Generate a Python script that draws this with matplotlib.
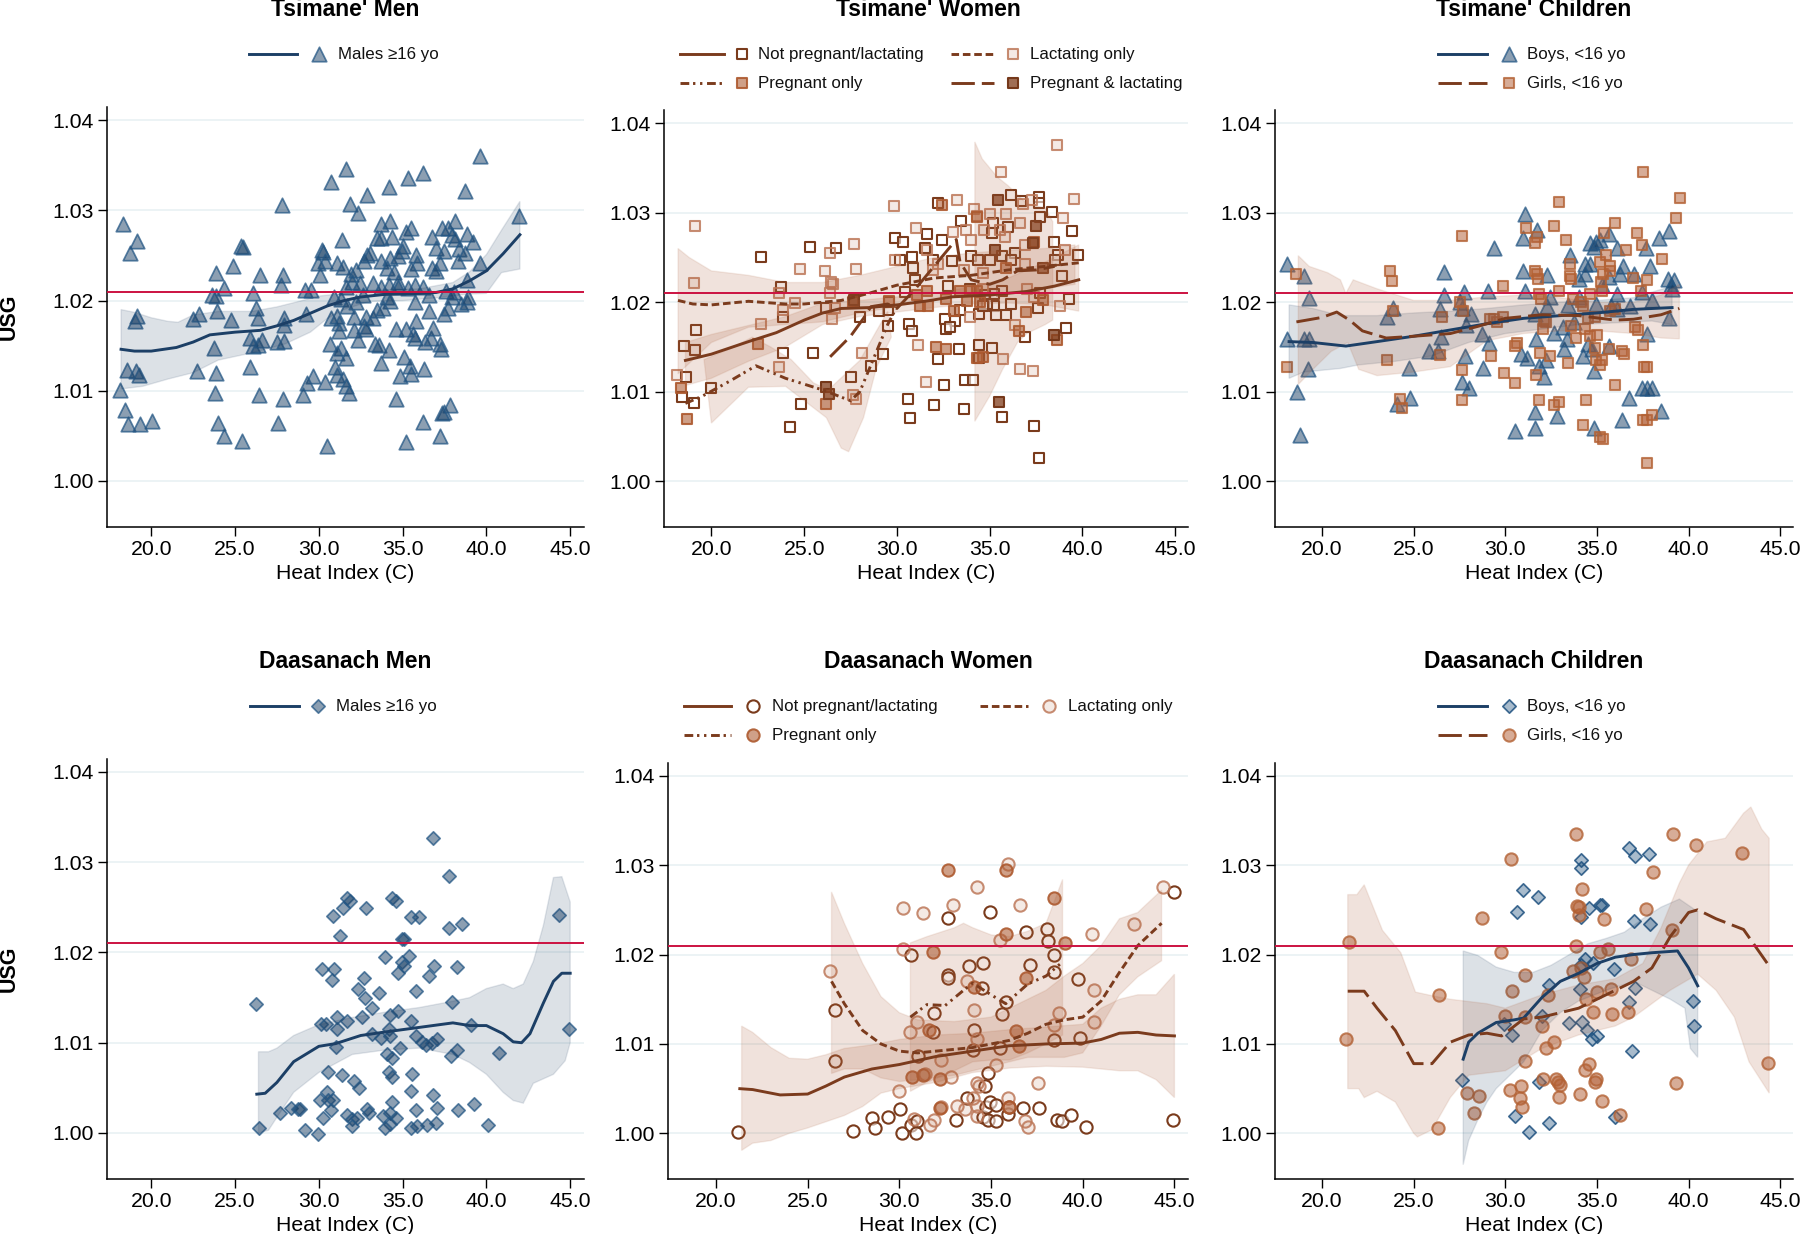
import numpy as np
import matplotlib
matplotlib.use('Agg')
import matplotlib.pyplot as plt

plt.rcParams['font.family'] = ['Liberation Sans', 'DejaVu Sans']

# Tsimane' men
tm_pts = [(18.33,1.0285),(19.15,1.0266),(18.75,1.0253),(19.15,1.0183),(19.06,1.0177),(18.54,1.0123),(19.09,1.0122),(19.27,1.0117),(18.13,1.0101),(18.42,1.0079),(18.63,1.0063),(19.34,1.0063),(20.07,1.0067),
 (22.47,1.018),(22.85,1.0185),(22.76,1.0122),(23.84,1.0231),(23.65,1.0206),(23.88,1.0205),(24.36,1.0214),(24.86,1.0238),(23.93,1.0188),(24.77,1.0179),(23.77,1.0147),(23.84,1.012),(23.79,1.0098),(24.0,1.0064),(24.36,1.005),(25.39,1.0044),
 (25.37,1.0261),(25.5,1.0259),(26.5,1.0228),(26.07,1.0208),(26.28,1.0192),(26.4,1.0181),(25.87,1.0158),(26.05,1.015),(26.39,1.0151),(26.64,1.0156),(25.91,1.0126),(26.44,1.0095),
 (27.79,1.0306),(27.88,1.0228),(27.76,1.0217),(27.92,1.0181),(27.92,1.0173),(27.53,1.0154),(27.92,1.0155),(27.85,1.0091),(27.56,1.0064),(29.25,1.0185),(29.18,1.0212),(29.52,1.0212),(29.66,1.0116),(29.32,1.0109),(29.06,1.0095),
 (30.39,1.011),(30.48,1.0039),(30.71,1.0331),(31.64,1.0346),(31.85,1.0307),(32.35,1.0297),(32.9,1.0317),(31.39,1.0267),(30.2,1.0256),(30.27,1.0254),(30.34,1.0244),(29.93,1.0242),(31.07,1.0242),(30.05,1.0228),(31.42,1.0237),(31.94,1.023),(32.2,1.0234),(32.0,1.0221),(32.44,1.0219),(31.64,1.0215),(30.89,1.0204),(31.3,1.0202),(32.67,1.0244),(32.9,1.0251),(33.08,1.0253),(31.7,1.0194),(32.2,1.0198),(32.63,1.0206),
 (30.73,1.0181),(31.07,1.0183),(31.19,1.0175),(31.23,1.0166),(32.1,1.0182),(32.79,1.0182),(33.24,1.0181),(33.47,1.019),(32.67,1.0172),(32.1,1.0167),(32.79,1.0168),(32.33,1.0156),(30.66,1.0152),(31.3,1.0147),(31.07,1.0142),(31.64,1.0136),(30.96,1.0126),(31.07,1.0118),(31.42,1.0113),(31.6,1.0105),(31.83,1.0098),
 (33.36,1.0152),(33.58,1.0151),(34.16,1.0145),(33.7,1.0131),(34.6,1.0091),(34.84,1.0116),(35.07,1.0138),(35.46,1.0128),(35.53,1.0119),(34.6,1.0168),(35.18,1.0168),(35.8,1.0177),(35.64,1.0163),(35.75,1.0158),(36.32,1.0154),(36.67,1.0158),(36.83,1.017),(37.24,1.0152),(37.28,1.0146),(37.47,1.0185),(37.69,1.0192),(36.6,1.0189),(36.28,1.0124),(36.21,1.0065),(35.23,1.0043),(37.24,1.005),(37.47,1.0076),(37.81,1.0084),(37.35,1.0075),
 (34.2,1.0326),(35.3,1.0336),(36.21,1.0341),(39.59,1.036),(38.74,1.0321),(41.92,1.0294),(33.7,1.0285),(34.27,1.0288),(35.48,1.028),(35.18,1.0276),(33.47,1.0269),(33.7,1.0269),(34.38,1.027),(35.0,1.0261),(34.95,1.0255),(35.8,1.0251),(35.87,1.0242),(35.53,1.0235),(33.7,1.0244),(34.22,1.0247),(34.73,1.0249),(34.04,1.0236),(34.5,1.0232),(34.73,1.0221),(33.24,1.0219),(33.7,1.0215),(34.16,1.0217),(34.73,1.0215),(35.3,1.0214),(36.21,1.0215),(35.75,1.0217),(34.04,1.0204),(34.27,1.02),(33.81,1.0192),(35.75,1.0198),(36.55,1.0206),
 (36.78,1.0271),(37.35,1.028),(37.69,1.028),(38.15,1.0288),(37.0,1.0258),(37.47,1.0255),(37.92,1.0273),(38.15,1.0268),(38.38,1.0257),(38.84,1.0274),(39.22,1.0265),(38.72,1.0253),(39.63,1.0242),(38.31,1.0244),(37.24,1.0242),(36.78,1.0236),(37.0,1.0233),(38.84,1.0223),(37.58,1.0211),(38.04,1.021),(37.92,1.0204),(38.49,1.0196),(38.84,1.0198),(38.88,1.0204)]
tm_line = [(18.2,1.0146),(19,1.0144),(20,1.0144),(21.5,1.0148),(22.5,1.0154),(23.5,1.0162),(25,1.0165),(26.5,1.0167),(27.5,1.0172),(28.5,1.0178),(29.5,1.0186),(30.5,1.0194),(31.5,1.02),(32.5,1.0204),(34,1.0207),(36,1.0208),(37,1.0209),(38,1.0213),(39,1.0222),(40,1.0233),(41,1.0252),(42,1.0273)]
tm_hi = [(18.2,1.019),(19,1.0187),(20,1.0181),(21,1.0177),(21.6,1.0176),(22.5,1.0184),(24,1.0188),(26,1.0188),(27.5,1.0193),(29,1.02),(30,1.0205),(31,1.0207),(32,1.0209),(34,1.0212),(36,1.0213),(38,1.022),(39,1.0232),(40,1.0251),(40.9,1.0278),(42,1.031)]
tm_lo = [(18.2,1.0102),(19.5,1.0105),(21,1.0113),(22.5,1.012),(24,1.0134),(26,1.0142),(28,1.0152),(29.5,1.0165),(30.5,1.018),(31.5,1.019),(33,1.0199),(35,1.02),(37,1.0203),(38.8,1.0207),(40,1.0208),(40.9,1.0231),(42,1.0235)]

# Tsimane' women
tw_np_pts = [(22.68,1.0251),(25.32,1.0262),(26.7,1.026),(23.75,1.0217),(23.86,1.0183),(23.86,1.0143),(19.15,1.0169),(18.54,1.0151),(19.11,1.0147),(18.64,1.0116),(18.43,1.0094),(19.05,1.0088),(20,1.0104),(24.81,1.0086),(24.25,1.0061),(25.5,1.0143),(26.17,1.0193),(27.67,1.02),(28.02,1.0183),(27.55,1.0116),(28.6,1.0129),(29.26,1.0142),(29.5,1.0173),(29.5,1.0191),(29.05,1.019),(29.57,1.02),
 (29.88,1.0272),(30.33,1.0267),(30.19,1.0247),(30.81,1.025),(30.87,1.0238),(30.95,1.0225),(30.46,1.0211),(30.66,1.0176),(30.81,1.0168),(30.6,1.0092),(30.7,1.0071),(31.63,1.0276),(31.49,1.0261),(32.19,1.0311),(32.42,1.0269),(32.97,1.0246),(31.94,1.0247),(33.45,1.0291),(34.0,1.0252),(34.38,1.0247),(32.73,1.0218),(33.39,1.0191),(33.14,1.0179),(32.6,1.0181),(32.66,1.017),(32.87,1.0172),(32.21,1.0137),(33.35,1.0148),(34.42,1.0152),(35.14,1.0149),(34.42,1.0138),(32.56,1.0107),(31.98,1.0085),(33.59,1.0081),(33.65,1.0113),(34.11,1.0113),(35.66,1.0072),(37.41,1.0062),(37.66,1.0026),
 (36.13,1.032),(36.69,1.0313),(37.66,1.0317),(37.66,1.0311),(37.72,1.0295),(38.38,1.0301),(39.41,1.0279),(38.48,1.0267),(38.69,1.0253),(38.54,1.0247),(39.74,1.0253),(38.9,1.0229),(39.27,1.0204),(39.12,1.0171),(37.62,1.0193),(37.72,1.021),(36.93,1.0161),(35.9,1.0186),(36.13,1.0198),(35.24,1.0196),(35.35,1.0186),(35.66,1.0213),(35.18,1.0288),(35.14,1.0277),(36.0,1.0284),(35.04,1.0247),(35.66,1.0252),(36.38,1.0255),(36.17,1.0247),(35.24,1.0209),(34.73,1.0208),(34.83,1.0198),(34.42,1.0187),(34.63,1.0196),(33.96,1.0215)]
tw_la_pts = [(19.11,1.0285),(19.05,1.0221),(18.12,1.0119),(23.63,1.021),(22.7,1.0176),(23.86,1.0191),(24.48,1.0199),(23.63,1.0128),(24.76,1.0237),(26.1,1.0235),(26.39,1.0255),(26.44,1.0223),(26.54,1.022),(26.37,1.021),(26.48,1.0181),(26.68,1.0193),(27.71,1.0265),(27.78,1.0237),(28.13,1.0143),(27.65,1.0096),(27.82,1.0092),(29.82,1.0307),(29.88,1.0247),(31.01,1.0283),(31.16,1.0152),(31.55,1.0111),(31.63,1.0258),(32.19,1.0243),(33.24,1.0314),(33.02,1.0278),(33.7,1.0281),(34.0,1.027),(34.17,1.0304),(34.32,1.0296),(35.04,1.0299),(34.69,1.0281),(35.61,1.0345),(35.86,1.0298),(35.55,1.0281),(35.8,1.0273),(36.65,1.0288),(36.79,1.031),(37.3,1.0314),(38.64,1.0376),(39.57,1.0315),(38.96,1.0294),(39.06,1.0258),(36.93,1.0264),(38.81,1.0196),(35.72,1.0137),(36.63,1.0125),(37.35,1.0123),(36.38,1.0174),(33.96,1.0183),(33.6,1.0236),(34.63,1.0233),(36.9,1.0243),(37.0,1.0215),(37.41,1.0206),(34.63,1.0215),(31.94,1.0236)]
tw_pr_pts = [(18.35,1.0104),(18.66,1.007),(22.5,1.0153),(26.17,1.0086),(27.65,1.02),(29.57,1.0201),(31.1,1.0208),(31.63,1.0213),(31.22,1.0196),(31.67,1.0196),(32.42,1.0309),(32.62,1.0148),(32.1,1.015),(32.62,1.0204),(33.08,1.019),(33.39,1.0213),(34.0,1.0213),(33.8,1.0201),(34.32,1.0213),(34.32,1.0295),(34.46,1.02),(36.96,1.0189),(36.58,1.0168),(37.88,1.0202),(38.64,1.0158),(37.41,1.0267),(35.86,1.0238),(34.32,1.0138),(34.63,1.0139)]
tw_pl_pts = [(26.2,1.0105),(26.33,1.0097),(27.67,1.0202),(35.45,1.0314),(35.31,1.0258),(37.47,1.0285),(37.33,1.0266),(37.88,1.0238),(38.44,1.0163),(35.49,1.0089)]
tw_np_line = [(18.6,1.0135),(20,1.0142),(22,1.0156),(23.5,1.0166),(25,1.018),(26,1.0188),(27,1.0193),(28.5,1.0194),(30,1.0197),(31.5,1.0201),(33,1.0206),(35,1.0208),(37,1.0212),(38.5,1.0218),(39.8,1.0225)]
tw_np_hi = [(18.6,1.0155),(20,1.0164),(22,1.0174),(24,1.0184),(26,1.0199),(28,1.0202),(30,1.0206),(32,1.021),(34,1.0217),(36,1.0227),(38,1.0245),(39.8,1.0264)]
tw_np_lo = [(18.6,1.0107),(20,1.0115),(22,1.0134),(24,1.015),(26,1.0175),(28,1.0184),(30,1.0189),(32,1.0194),(34,1.0198),(36,1.0199),(38,1.0197),(39.8,1.019)]
tw_la_line = [(18.2,1.0202),(19,1.0198),(20,1.0197),(22,1.0201),(24,1.0198),(25,1.0198),(27,1.0202),(28.5,1.021),(30,1.0219),(32,1.0227),(34,1.023),(36,1.0236),(38,1.024),(39.8,1.0244)]
tw_la_hi = [(18.2,1.026),(18.8,1.025),(20,1.0235),(22,1.023),(24,1.0222),(26,1.0222),(28,1.023),(30,1.024),(32,1.025),(34,1.0255),(36,1.0258),(38,1.026),(39.6,1.0264)]
tw_la_lo = [(18.2,1.012),(20,1.0155),(22,1.0172),(24,1.0175),(26,1.0178),(28,1.0188),(30,1.0195),(32,1.0205),(34,1.0208),(36,1.021),(38,1.0215),(39.6,1.022)]
tw_pr_line = [(18.6,1.0087),(19.5,1.0095),(21,1.0112),(22.4,1.0129),(24,1.0115),(26,1.0102),(27.5,1.009),(28,1.01),(28.5,1.0125),(29,1.015),(29.5,1.0175),(30,1.0195)]
tw_pr_hi = [(19.6,1.0136),(21,1.0148),(22.2,1.0161),(23.2,1.015),(24.3,1.0136),(25.5,1.011),(26.3,1.0102),(28,1.0135),(29.5,1.019)]
tw_pr_lo = [(20,1.0065),(22,1.0105),(24,1.0106),(26.2,1.0071),(27,1.0037),(27.4,1.0033),(28.2,1.0071),(28.9,1.0127),(29.7,1.0161)]
tw_pl_line = [(26.4,1.0139),(27.5,1.0162),(28.2,1.0182),(28.6,1.0195),(29.5,1.0198),(30,1.0193),(31,1.0215),(32,1.024),(33,1.0265),(33.2,1.027),(33.4,1.0245),(34,1.0225),(35,1.022),(35.7,1.0225),(36.5,1.0235),(37.5,1.0236),(38.5,1.024)]
tw_pl_hi = [(34.2,1.0379),(34.6,1.036),(35.4,1.034),(36,1.033),(37,1.031),(38,1.0305),(38.4,1.029)]
tw_pl_lo = [(34.2,1.0067),(35,1.0095),(35.7,1.0125),(36.5,1.0155),(37,1.0165),(38,1.0175),(38.4,1.018)]

# Tsimane' children
tc_b_pts = [(18.1,1.0243),(19.02,1.0229),(19.29,1.0205),(18.1,1.0159),(19.04,1.0159),(19.29,1.0159),(19.23,1.0125),(18.62,1.01),(18.79,1.0052),(23.57,1.0184),(23.88,1.0193),(24.11,1.0086),(24.82,1.0093),(24.76,1.0127),(25.83,1.0146),(26.33,1.0146),(26.5,1.0161),(26.43,1.0192),(26.66,1.0208),(26.66,1.0234),(27.54,1.02),(27.75,1.0211),(27.64,1.0193),(27.85,1.0175),(28.12,1.0187),(27.81,1.014),(27.64,1.0111),(28.0,1.0104),(28.79,1.0127),(28.75,1.0165),(29.04,1.0213),(29.1,1.0154),(29.38,1.026),
 (31.05,1.0299),(30.99,1.0272),(31.72,1.0281),(30.99,1.0235),(31.05,1.0213),(31.61,1.0187),(31.65,1.0159),(30.88,1.0142),(31.2,1.0138),(31.86,1.0129),(32.24,1.0136),(32.13,1.0116),(31.61,1.0077),(31.61,1.0059),(30.51,1.0056),(32.8,1.0073),(32.28,1.023),(32.45,1.0206),(32.3,1.0196),(32.66,1.0166),(33.14,1.0172),(33.18,1.0148),(33.35,1.0159),(33.43,1.0197),(33.55,1.0253),
 (34.01,1.0226),(34.33,1.0243),(34.64,1.0243),(34.33,1.0232),(34.01,1.0206),(33.76,1.0178),(34.22,1.014),(34.53,1.0153),(34.75,1.0148),(34.85,1.0123),(34.64,1.0266),(34.85,1.0262),(34.95,1.0267),(35.16,1.027),(35.64,1.0276),(36.1,1.026),(36.42,1.024),(36.27,1.0231),(35.68,1.0228),(36.1,1.0209),(35.27,1.0219),(34.95,1.0198),(35.79,1.0196),(36.1,1.0192),(36.83,1.0196),(37.04,1.0231),(37.46,1.0211),(37.88,1.024),(37.67,1.026),(38.36,1.0272),(38.92,1.0279),(37.98,1.0203),(38.86,1.0226),(39.19,1.0225),(39.03,1.0219),(39.07,1.0215),(38.92,1.0182),(37.73,1.0164),(35.68,1.0151),(36.73,1.0093),(37.46,1.0104),(37.73,1.0104),(37.98,1.0104),(38.5,1.0079),(36.37,1.0068),(34.85,1.0059)]
tc_g_pts = [(18.56,1.0231),(18.1,1.0128),(23.72,1.0235),(23.82,1.0224),(23.88,1.019),(23.57,1.0136),(24.24,1.0092),(24.37,1.0082),(26.54,1.0183),(26.41,1.0141),(27.66,1.0274),(27.54,1.02),(27.71,1.019),(27.64,1.0124),(27.62,1.0091),(29.17,1.0181),(29.21,1.014),(29.52,1.0178),(29.38,1.0181),(29.88,1.0183),(29.88,1.0218),(29.94,1.0121),(30.51,1.011),(30.63,1.0155),(30.51,1.0151),
 (31.13,1.0283),(31.72,1.0273),(31.63,1.0266),(31.63,1.0235),(31.72,1.0232),(31.78,1.0226),(31.82,1.0209),(31.97,1.0204),(31.88,1.0143),(31.68,1.0119),(31.82,1.0091),(32.13,1.0179),(32.24,1.0178),(32.07,1.017),(32.45,1.014),(32.66,1.0285),(32.91,1.0312),(32.93,1.0213),(32.66,1.0085),(32.93,1.0089),(33.33,1.027),(33.55,1.0243),(33.55,1.0229),(33.6,1.0226),(33.43,1.0132),(33.7,1.0204),(33.6,1.0173),(33.85,1.016),
 (34.12,1.02),(34.22,1.0196),(34.33,1.017),(34.53,1.0182),(34.64,1.0209),(34.64,1.0162),(34.43,1.0091),(34.22,1.0063),(34.91,1.0183),(35.0,1.0163),(34.91,1.0149),(34.95,1.0136),(35.16,1.013),(35.27,1.0136),(35.16,1.0245),(35.31,1.0232),(35.22,1.0223),(35.37,1.0277),(35.27,1.0213),(35.52,1.0253),(35.73,1.024),(35.73,1.0235),(35.73,1.019),(35.68,1.0148),(36.0,1.0288),(36.0,1.0192),(36.35,1.0146),(36.46,1.0142),(36.0,1.0107),(36.58,1.0258),(36.98,1.0227),(37.1,1.0172),(37.25,1.0169),(37.21,1.0277),(37.46,1.0264),(37.52,1.0345),(37.42,1.0212),(37.71,1.0225),(37.52,1.0152),(37.57,1.0128),(37.71,1.0128),(37.52,1.0069),(37.73,1.0069),(37.98,1.0074),(37.71,1.0021),(38.57,1.0248),(39.34,1.0294),(39.55,1.0316),(35.16,1.005),(35.31,1.0047)]
tc_b_line = [(18.2,1.0156),(19.5,1.0155),(21.3,1.0151),(23,1.0156),(25,1.0162),(27,1.0169),(29,1.0176),(31,1.0182),(33,1.0185),(35,1.0188),(37,1.0192),(39.1,1.0194)]
tc_b_hi = [(18.2,1.0197),(19.5,1.0193),(21,1.0185),(23,1.0185),(25,1.0188),(27,1.019),(29,1.0193),(31,1.0197),(33,1.02),(35,1.0202),(37,1.0205),(39.1,1.0218)]
tc_b_lo = [(18.2,1.0115),(19,1.0122),(21,1.0126),(22,1.013),(24,1.0134),(26,1.014),(28,1.0155),(30,1.0165),(32,1.017),(34,1.0175),(36,1.0177),(38,1.0179),(39.1,1.0175)]
tc_g_line = [(18.6,1.0178),(20,1.0183),(20.8,1.0189),(21.5,1.018),(22.2,1.0168),(23.5,1.016),(25,1.0162),(27,1.0165),(28.5,1.0173),(30,1.0182),(32,1.0186),(34,1.0185),(36,1.018),(37,1.0181),(38.5,1.0186),(39.5,1.0193)]
tc_g_hi = [(18.7,1.0252),(19.3,1.024),(20.3,1.0233),(21,1.0225),(21.3,1.021),(21.7,1.0225),(23,1.0215),(25,1.0202),(27,1.0202),(29,1.0206),(31,1.0208),(33,1.0205),(35,1.02),(37,1.02),(38.5,1.0208),(39.5,1.022)]
tc_g_lo = [(18.7,1.0108),(19.5,1.0125),(20.5,1.0145),(21.4,1.0155),(22,1.0125),(23,1.0118),(25,1.0122),(27,1.0128),(29,1.0157),(31,1.0165),(33,1.0168),(35,1.0168),(37,1.0165),(38.5,1.016),(39.5,1.0159)]

# Daasanach men
dm_pts = [(26.28,1.0143),(26.44,1.0005),(27.69,1.0022),(28.33,1.0028),(28.74,1.0027),(28.9,1.0027),(29.2,1.0003),(29.95,0.9999),(30.07,1.0036),(30.27,1.0017),(30.5,1.0045),(30.57,1.0036),(30.84,1.0036),(30.73,1.0025),(30.55,1.0068),(31.03,1.0095),(30.21,1.0182),(30.91,1.0182),(30.8,1.0169),(30.84,1.024),(31.26,1.0218),(31.46,1.0249),(31.71,1.026),(31.87,1.0257),(32.79,1.0249),(30.16,1.0121),(30.43,1.0121),(31.07,1.0129),(31.07,1.0115),(31.69,1.0124),(31.37,1.0064),(32.1,1.0058),(32.4,1.005),(31.71,1.002),(31.99,1.0016),(31.99,1.0008),(32.26,1.0017),(32.85,1.0027),(32.97,1.0022),(32.35,1.016),(32.69,1.0172),(32.74,1.015),(32.56,1.0129),(33.2,1.0139),(33.58,1.0155),(33.2,1.011),(33.7,1.0105),
 (33.93,1.0195),(34.38,1.026),(34.61,1.0257),(34.22,1.0131),(34.73,1.0135),(34.16,1.0115),(34.27,1.0108),(34.09,1.0087),(34.38,1.0083),(34.2,1.0068),(34.38,1.0062),(34.84,1.0094),(34.38,1.0034),(33.81,1.0019),(34.27,1.0022),(34.61,1.0017),(34.27,1.001),(33.93,1.0005),(34.95,1.0215),(35.11,1.0215),(35.41,1.0196),(34.95,1.0189),(35.07,1.0185),(34.73,1.0177),(35.82,1.0157),(35.53,1.0239),(35.98,1.0239),(35.53,1.0124),(35.8,1.0108),(36.16,1.0101),(36.37,1.0098),(36.74,1.01),(37.08,1.0104),(35.59,1.0065),(35.53,1.0046),(35.8,1.0025),(35.53,1.0006),(35.87,1.0008),(36.48,1.0009),(37.01,1.0011),(37.05,1.0028),(36.83,1.0042),(36.8,1.0327),(37.76,1.0285),(37.76,1.0227),(38.54,1.0232),(36.6,1.0174),(36.85,1.0185),(38.22,1.0184),(37.92,1.0145),(37.88,1.0085),(38.22,1.0092),(38.31,1.0025),(39.06,1.012),(39.29,1.0032),(40.09,1.0009),(40.73,1.0089),(44.36,1.0241),(44.95,1.0115)]
dm_line = [(26.3,1.0043),(26.8,1.0044),(27.5,1.0056),(28.5,1.0079),(30,1.0096),(31,1.0099),(32.5,1.0108),(34,1.0112),(36,1.0117),(38,1.0122),(39,1.0119),(40,1.0119),(41,1.011),(41.6,1.0101),(42.1,1.01),(42.6,1.011),(43.4,1.0144),(44,1.0168),(44.5,1.0177),(45,1.0177)]
dm_hi = [(26.4,1.009),(27,1.009),(27.5,1.0094),(28.5,1.0108),(30,1.012),(32,1.0128),(34,1.0134),(36,1.0139),(38,1.0146),(39,1.015),(40,1.016),(41,1.0165),(41.6,1.016),(42.2,1.0165),(42.8,1.019),(43.4,1.023),(44,1.0283),(44.5,1.0284),(45,1.0256)]
dm_lo = [(26.4,1.0),(27,1.0003),(27.7,1.0023),(28.5,1.0045),(30,1.0067),(32,1.0087),(34,1.0092),(36,1.0094),(38,1.0087),(39,1.0078),(40,1.0065),(41,1.0045),(41.6,1.0036),(42.2,1.0033),(42.8,1.0055),(43.4,1.006),(44,1.0065),(44.7,1.008),(45,1.01)]

# Daasanach women
dw_np_pts = [(21.21,1.0002),(26.47,1.0138),(26.47,1.0081),(27.49,1.0003),(28.49,1.0017),(28.66,1.0006),(29.39,1.0018),(30.06,1.0027),(30.12,1.0),(30.64,1.0199),(30.62,1.0009),(30.96,1.0014),(30.89,1.0),(31,1.0087),(31.87,1.0135),(31.83,1.0113),(32.63,1.0177),(32.67,1.0241),(32.67,1.0174),(33.1,1.0015),(33.71,1.004),(33.81,1.0187),(34.02,1.0093),(34.09,1.0116),(34.55,1.0191),(34.5,1.0163),(34.96,1.0248),(34.86,1.0067),(34.65,1.0053),(34.55,1.0018),(34.75,1.003),(34.82,1.0015),(34.96,1.0035),(35.28,1.0032),(35.28,1.0014),(35.48,1.0096),(35.59,1.0134),(35.8,1.0147),(35.9,1.0022),(36.0,1.0029),(36.74,1.0028),(36.88,1.0225),(37.11,1.0188),(37.59,1.0028),(38.05,1.0228),(38.09,1.0215),(38.45,1.0199),(38.41,1.018),(38.45,1.0104),(38.57,1.0015),(38.86,1.0014),(39.34,1.0021),(39.76,1.0173),(39.87,1.0107),(40.18,1.0007),(44.98,1.027),(44.94,1.0015)]
dw_la_pts = [(26.2,1.0182),(30.2,1.0252),(31.31,1.0246),(32.92,1.0255),(30.2,1.0206),(30.58,1.0113),(30.96,1.0125),(30.0,1.0047),(31.41,1.0066),(30.79,1.0016),(31.67,1.0009),(31.9,1.0015),(32.25,1.0082),(32.81,1.0063),(32.25,1.0029),(33.13,1.0031),(33.6,1.0027),(33.71,1.017),(34.07,1.0138),(34.23,1.0275),(34.23,1.0106),(34.02,1.004),(34.23,1.0056),(34.34,1.0053),(34.23,1.0019),(34.23,1.0031),(35.48,1.0216),(35.28,1.0076),(35.9,1.0301),(36.57,1.0255),(35.9,1.004),(36.84,1.0014),(37.0,1.0007),(37.57,1.0056),(38.72,1.0135),(40.53,1.0223),(40.6,1.016),(40.6,1.0124),(42.79,1.0234),(44.4,1.0275),(38.41,1.0121)]
dw_pr_pts = [(32.63,1.0295),(35.8,1.0295),(38.41,1.0263),(35.8,1.0223),(39.03,1.0213),(31.83,1.0203),(36.88,1.0174),(34.09,1.0164),(31.62,1.0116),(36.36,1.0115),(36.53,1.0098),(30.68,1.0063),(31.31,1.0065),(32.19,1.0061),(32.21,1.0028),(35.96,1.003)]
dw_np_line = [(21.3,1.005),(22,1.0049),(23.5,1.0043),(25,1.0044),(26,1.0053),(27,1.0063),(28.5,1.0072),(30,1.0077),(32,1.0086),(34,1.0092),(36,1.0098),(38,1.01),(40,1.0101),(41,1.0105),(42,1.0112),(43,1.0113),(44,1.011),(45,1.0109)]
dw_np_hi = [(21.4,1.012),(22,1.0113),(23,1.0096),(24,1.0084),(25,1.0083),(26,1.0088),(27,1.0095),(28.5,1.0099),(30,1.0105),(32,1.011),(34,1.0112),(36,1.0116),(38,1.0119),(40,1.0122),(41,1.014),(42,1.015),(43,1.0155),(44,1.0155),(45,1.0178)]
dw_np_lo = [(21.4,0.9981),(22,0.9989),(23,0.9992),(24,1.0),(25,1.0006),(26,1.0013),(27,1.002),(28,1.003),(29,1.0045),(30,1.005),(32,1.0057),(34,1.0068),(36,1.0073),(38,1.0075),(40,1.0074),(42,1.007),(43,1.007),(44,1.006),(45,1.004)]
dw_la_line = [(26.3,1.017),(27,1.0145),(28,1.0115),(29,1.01),(30,1.0092),(31,1.009),(33,1.0094),(34,1.0096),(36,1.0104),(37,1.0112),(38,1.0122),(39,1.0127),(40,1.013),(41,1.0148),(42,1.018),(43,1.021),(44.3,1.0235)]
dw_la_hi = [(26.3,1.027),(27,1.0235),(28,1.019),(29,1.0153),(30,1.0135),(31,1.0127),(33,1.0125),(35,1.013),(37,1.015),(38,1.016),(39,1.0176),(40,1.019),(41,1.021),(42,1.024),(43,1.0247),(44.3,1.0272)]
dw_la_lo = [(26.3,1.0067),(27,1.0072),(28,1.0072),(29,1.0062),(30,1.0058),(31,1.006),(33,1.0065),(35,1.0075),(37,1.0085),(39,1.0085),(40,1.009),(41,1.012),(42,1.0155),(43,1.0175),(44.3,1.0193)]
dw_pr_line = [(30.6,1.013),(31.5,1.0144),(32.5,1.0143),(33.5,1.016),(34,1.0168),(35,1.0155),(35.8,1.0145),(37,1.0167),(38,1.0176),(38.8,1.019)]
dw_pr_hi = [(30.6,1.0213),(31.5,1.022),(33,1.023),(33.5,1.0235),(34,1.023),(35,1.0222),(36,1.022),(37,1.0226),(38,1.0235),(38.9,1.0284)]
dw_pr_lo = [(30.6,1.0047),(31.5,1.0057),(33,1.007),(34,1.008),(35,1.0082),(36,1.0082),(37,1.009),(38,1.01),(38.9,1.011)]

# Daasanach children
dc_b_pts = [(27.64,1.006),(29.94,1.0122),(30.36,1.011),(30.63,1.0248),(30.99,1.0272),(31.78,1.0264),(30.53,1.0019),(31.3,1.0001),(31.82,1.0058),(31.99,1.0131),(32.39,1.0166),(32.39,1.0012),(33.45,1.0123),(34.08,1.0161),(34.12,1.0306),(34.12,1.0297),(34.12,1.0242),(34.54,1.0252),(35.16,1.0255),(35.27,1.0255),(34.18,1.0125),(34.47,1.0116),(34.75,1.0105),(35.02,1.0109),(34.37,1.0195),(34.12,1.0188),(34.79,1.019),(35.94,1.0184),(36.0,1.0018),(36.77,1.0319),(37.1,1.031),(37.82,1.0312),(37.0,1.0237),(37.88,1.0234),(37.08,1.0163),(36.77,1.0147),(36.9,1.0092),(40.24,1.0148),(40.32,1.012)]
dc_g_pts = [(21.48,1.0214),(21.32,1.0106),(26.39,1.0155),(26.35,1.0006),(27.89,1.0045),(28.54,1.0042),(28.27,1.0023),(28.71,1.0241),(29.75,1.0203),(30.32,1.0307),(30.34,1.0159),(30.0,1.0131),(30.25,1.0048),(30.84,1.0053),(30.78,1.004),(30.92,1.003),(31.05,1.0081),(31.05,1.013),(31.05,1.0177),(31.99,1.012),(32.2,1.0096),(32.03,1.0061),(32.34,1.0155),(32.66,1.0102),(32.76,1.0061),(32.87,1.0058),(32.97,1.0054),(32.91,1.0041),(33.85,1.0335),(33.87,1.021),(33.7,1.0182),(34.16,1.0273),(33.91,1.0254),(34.01,1.0253),(34.01,1.0244),(34.12,1.0185),(34.27,1.0175),(34.06,1.0044),(34.43,1.015),(34.79,1.0136),(34.58,1.0078),(34.37,1.0071),(34.95,1.0061),(34.89,1.0057),(35.0,1.0158),(35.16,1.0203),(35.58,1.0206),(35.41,1.024),(35.27,1.0036),(35.79,1.0161),(35.83,1.0133),(36.25,1.0021),(36.67,1.0136),(36.87,1.0195),(37.67,1.0251),(38.05,1.0292),(39.07,1.0227),(39.17,1.0335),(39.34,1.0056),(40.38,1.0322),(42.93,1.0313),(44.31,1.0079)]
dc_b_line = [(27.7,1.0083),(28,1.0102),(28.5,1.0112),(29.5,1.0124),(30.5,1.0127),(31,1.0129),(32,1.0152),(33,1.017),(34,1.0179),(35,1.019),(36,1.0197),(37,1.02),(38,1.0202),(39.4,1.0204),(40,1.0185),(40.5,1.0165)]
dc_b_hi = [(27.7,1.0204),(28.5,1.0199),(29.5,1.0186),(30.5,1.018),(31.5,1.018),(32.5,1.0188),(33.5,1.02),(34.5,1.0212),(35.5,1.0218),(36.5,1.0225),(37.5,1.024),(38.5,1.0253),(39.5,1.0262),(40.5,1.0248)]
dc_b_lo = [(27.7,0.9965),(28,0.9992),(28.5,1.0015),(29,1.0035),(29.5,1.005),(30,1.006),(31,1.008),(32,1.0115),(33,1.0135),(34,1.0148),(35.5,1.016),(37,1.017),(38,1.016),(39,1.015),(39.8,1.014),(40.1,1.0095),(40.5,1.0085)]
dc_g_line = [(21.4,1.0159),(22.3,1.0159),(23,1.014),(24,1.0115),(25,1.0078),(26,1.0078),(27,1.0102),(28,1.011),(29,1.0112),(29.8,1.0109),(31,1.0128),(32,1.013),(34,1.014),(36,1.016),(37,1.017),(38,1.0185),(39,1.022),(40,1.0247),(40.5,1.025),(41.5,1.024),(43,1.0228),(44.3,1.019)]
dc_g_hi = [(21.4,1.0267),(21.9,1.0267),(22.3,1.0278),(23.3,1.0227),(24.3,1.0202),(25.1,1.0158),(26,1.0154),(27,1.015),(29,1.0145),(30,1.014),(32,1.0155),(34,1.0166),(36,1.0173),(37.5,1.019),(38.5,1.023),(39.5,1.028),(40,1.03),(41,1.0326),(42,1.033),(43,1.0358),(43.4,1.0365),(44,1.034),(44.4,1.033)]
dc_g_lo = [(21.4,1.005),(22,1.005),(22.3,1.004),(23,1.0047),(24,1.0035),(25,1.0),(25.2,0.9996),(26,1.0004),(27,1.004),(28,1.0065),(30,1.007),(32,1.0095),(34,1.011),(36,1.012),(37,1.013),(39,1.016),(40.5,1.0178),(41.5,1.016),(42.5,1.013),(43.3,1.008),(44.4,1.0045)]

yticks = [1.00, 1.01, 1.02, 1.03, 1.04]
xticks = [20, 25, 30, 35, 40, 45]

blue = '#1c3f66'
brown = '#7b3b1d'
blue_band = (0.10, 0.22, 0.36, 0.15)
brown_band = (0.68, 0.38, 0.24, 0.18)
solid = '-'
short = (0, (2.6, 1.3))
dots = (0, (3, 1.3, 0.8, 1.6, 0.8, 1.6))
long_dash = (0, (8, 2.4))

m_blue = dict(fc=(0.10, 0.25, 0.40, 0.50), ec=(0.14, 0.34, 0.52, 0.75))
m_blue_lt = dict(fc=(0.10, 0.30, 0.48, 0.38), ec=(0.12, 0.32, 0.50, 0.85))
m_np = dict(fc=(1, 1, 1, 0.55), ec=(0.48, 0.23, 0.11, 1))
m_la = dict(fc=(0.72, 0.42, 0.28, 0.14), ec=(0.74, 0.47, 0.35, 0.85))
m_pr = dict(fc=(0.68, 0.36, 0.20, 0.58), ec=(0.68, 0.35, 0.18, 0.9))
m_pl = dict(fc=(0.50, 0.24, 0.11, 0.75), ec=(0.46, 0.22, 0.10, 1))
m_girl = dict(fc=(0.70, 0.38, 0.22, 0.52), ec=(0.70, 0.38, 0.20, 0.8))

fig = plt.figure(figsize=(18, 12.34), dpi=100)


def make_ax(left, right, top, bottom, xlim):
    ax = fig.add_axes([left / 1800, 1 - bottom / 1234, (right - left) / 1800, (bottom - top) / 1234])
    ax.set_xlim(*xlim)
    ax.set_ylim(0.9949, 1.04146)
    ax.spines['top'].set_visible(False)
    ax.spines['right'].set_visible(False)
    ax.spines['left'].set_linewidth(1.1)
    ax.spines['bottom'].set_linewidth(1.1)
    ax.set_xticks(xticks)
    ax.set_xticklabels(['%.1f' % t for t in xticks])
    ax.set_yticks(yticks)
    ax.set_yticklabels(['%.2f' % t for t in yticks])
    ax.tick_params(labelsize=15.3, length=6.5, width=1, pad=3)
    ax.grid(axis='y', color='#eaf2f4', lw=1.3)
    ax.set_axisbelow(True)
    ax.axhline(1.021, color='#cc1241', lw=1.4, zorder=5)
    ax.set_xlabel('Heat Index (C)', fontsize=15.3, labelpad=3.5)
    return ax


def pts(ax, data, marker, size, style, lw=1.25):
    a = np.array(data)
    ax.scatter(a[:, 0], a[:, 1], marker=marker, s=size, facecolors=style['fc'], edgecolors=style['ec'], linewidths=lw, zorder=2)


def band(ax, hi, lo, color):
    a = np.array(hi + lo[::-1])
    ax.fill(a[:, 0], a[:, 1], fc=color, ec=(color[0], color[1], color[2], 0.12), lw=1, zorder=3)


def curve(ax, data, color, ls):
    a = np.array(data)
    ax.plot(a[:, 0], a[:, 1], color=color, ls=ls, lw=2.1, zorder=4)


# overlay in pixel coordinates for titles and legend keys
top = fig.add_axes([0, 0, 1, 1], zorder=10)
top.set_xlim(0, 1800)
top.set_ylim(1234, 0)
top.axis('off')


def key(x0, x1, xm, xt, y, color, ls, marker, size, style, label, lw=1.25):
    top.plot([x0, x1], [y, y], color=color, ls=ls, lw=2.1)
    top.scatter([xm], [y], marker=marker, s=size, facecolors=style['fc'], edgecolors=style['ec'], linewidths=lw)
    top.text(xt, y + 0.5, label, fontsize=12.2, va='center', ha='left', color='#111111')


tri, sq, circ, dia = 108, 58, 78, 46

# top row
ax = make_ax(106.8, 583.6, 107, 527, (17.35, 45.8))
pts(ax, tm_pts, '^', tri, m_blue)
band(ax, tm_hi, tm_lo, blue_band)
curve(ax, tm_line, blue, solid)

ax = make_ax(663.9, 1188.2, 110, 527, (17.44, 45.7))
pts(ax, tw_np_pts, 's', sq, m_np, 1.5)
pts(ax, tw_la_pts, 's', sq, m_la, 1.5)
pts(ax, tw_pr_pts, 's', sq, m_pr, 1.5)
pts(ax, tw_pl_pts, 's', sq, m_pl, 1.5)
band(ax, tw_np_hi, tw_np_lo, brown_band)
band(ax, tw_la_hi, tw_la_lo, brown_band)
band(ax, tw_pr_hi, tw_pr_lo, brown_band)
band(ax, tw_pl_hi, tw_pl_lo, brown_band)
curve(ax, tw_np_line, brown, solid)
curve(ax, tw_la_line, brown, short)
curve(ax, tw_pr_line, brown, dots)
curve(ax, tw_pl_line, brown, long_dash)

ax = make_ax(1274.6, 1793.2, 110, 527, (17.41, 45.71))
pts(ax, tc_b_pts, '^', tri, m_blue)
pts(ax, tc_g_pts, 's', sq, m_girl, 1.5)
band(ax, tc_b_hi, tc_b_lo, blue_band)
band(ax, tc_g_hi, tc_g_lo, brown_band)
curve(ax, tc_b_line, blue, solid)
curve(ax, tc_g_line, brown, long_dash)

# bottom row
ax = make_ax(106.8, 583.6, 758.8, 1179, (17.35, 45.8))
pts(ax, dm_pts, 'D', dia, m_blue)
band(ax, dm_hi, dm_lo, blue_band)
curve(ax, dm_line, blue, solid)

ax = make_ax(668.1, 1188.2, 762.6, 1179, (17.39, 45.75))
pts(ax, dw_np_pts, 'o', circ, m_np, 1.5)
pts(ax, dw_la_pts, 'o', circ, m_la, 1.5)
pts(ax, dw_pr_pts, 'o', circ, m_pr, 1.5)
band(ax, dw_np_hi, dw_np_lo, brown_band)
band(ax, dw_la_hi, dw_la_lo, brown_band)
band(ax, dw_pr_hi, dw_pr_lo, brown_band)
curve(ax, dw_np_line, brown, solid)
curve(ax, dw_la_line, brown, short)
curve(ax, dw_pr_line, brown, dots)

ax = make_ax(1274.6, 1793.2, 762.6, 1179, (17.41, 45.71))
pts(ax, dc_b_pts, 'D', dia, m_blue_lt)
pts(ax, dc_g_pts, 'o', circ, m_girl, 1.5)
band(ax, dc_b_hi, dc_b_lo, blue_band)
band(ax, dc_g_hi, dc_g_lo, brown_band)
curve(ax, dc_b_line, blue, solid)
curve(ax, dc_g_line, brown, long_dash)

titles = [("Tsimane' Men", 345, 10), ("Tsimane' Women", 928, 10), ("Tsimane' Children", 1534, 10),
          ('Daasanach Men', 345, 661), ('Daasanach Women', 928, 661), ('Daasanach Children', 1534, 661)]
for t, x, y in titles:
    top.text(x, y, t, fontsize=16.5, fontweight='bold', ha='center', va='center')
top.text(9, 317, 'USG', fontsize=15.5, fontweight='bold', rotation=90, ha='center', va='center')
top.text(9, 969, 'USG', fontsize=15.5, fontweight='bold', rotation=90, ha='center', va='center')

key(249, 297.4, 318.8, 337.5, 54, blue, solid, '^', tri, m_blue, 'Males \u226516 yo')
key(679.6, 723.6, 742, 758, 54, brown, solid, 's', sq, m_np, 'Not pregnant/lactating', 1.5)
key(951, 994, 1013.3, 1030, 54, brown, short, 's', sq, m_la, 'Lactating only', 1.5)
key(679.6, 723.6, 742, 758, 83.4, brown, dots, 's', sq, m_pr, 'Pregnant only', 1.5)
key(951, 994, 1013.3, 1030, 83.4, brown, long_dash, 's', sq, m_pl, 'Pregnant & lactating', 1.5)
key(1438.4, 1487, 1508.5, 1527.2, 54, blue, solid, '^', tri, m_blue, 'Boys, <16 yo')
key(1438.4, 1487, 1508.5, 1527.2, 83.4, brown, long_dash, 's', sq, m_girl, 'Girls, <16 yo', 1.5)
key(250, 298.5, 318.4, 336, 706, blue, solid, 'D', dia, m_blue, 'Males \u226516 yo')
key(684.2, 731.3, 753, 771.5, 706, brown, solid, 'o', circ, m_np, 'Not pregnant/lactating', 1.5)
key(980, 1027.9, 1049, 1067.7, 706, brown, short, 'o', circ, m_la, 'Lactating only', 1.5)
key(684.2, 731.3, 753, 771.5, 735.4, brown, dots, 'o', circ, m_pr, 'Pregnant only', 1.5)
key(1438.4, 1487, 1508.5, 1527.2, 706, blue, solid, 'D', dia, m_blue_lt, 'Boys, <16 yo')
key(1438.4, 1487, 1508.5, 1527.2, 735.4, brown, long_dash, 'o', circ, m_girl, 'Girls, <16 yo', 1.5)

top.set_xlim(0, 1800)
top.set_ylim(1234, 0)
fig.savefig('out.png', dpi=100)
